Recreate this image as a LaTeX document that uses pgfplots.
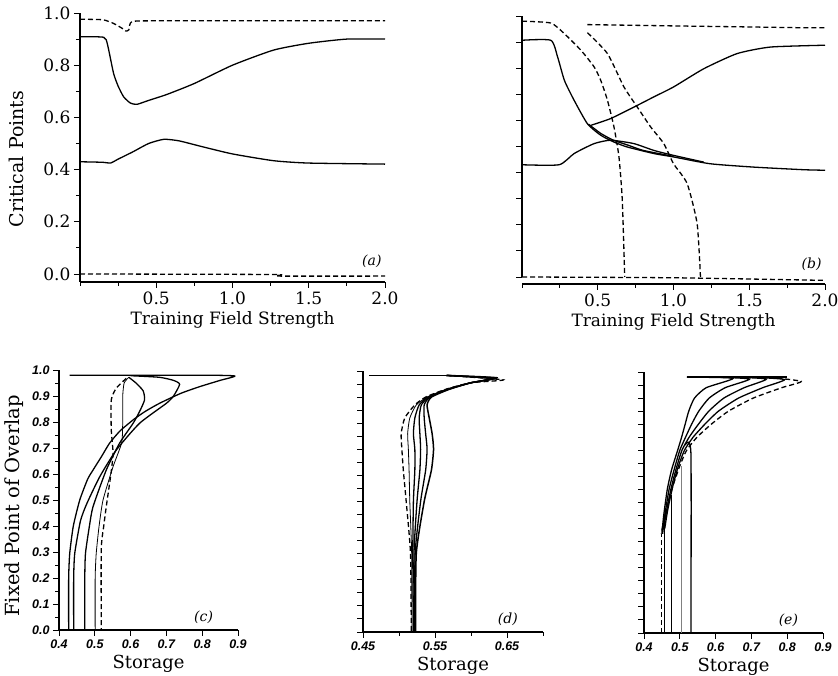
\documentclass[border=0pt]{standalone}
\usepackage{fontspec}
\setmainfont{DejaVu Serif}
\setsansfont{Liberation Sans}
\usepackage{pgfplots}
\pgfplotsset{compat=1.18}

\tikzset{
  dsh/.style={dash pattern=on 5pt off 3pt},
  tag/.style={font=\itshape\fontsize{14}{16}\selectfont, anchor=south east},
}
\pgfplotsset{
  panel/.style={
    scale only axis, clip=false,
    axis lines*=left,
    axis line style={line width=1.2pt, -},
    tick align=outside,
    tick style={line width=0.9pt, black},
    major tick length=6pt, minor tick length=4pt,
    cycle list={{black, solid, mark=none}},
    every axis plot/.append style={line width=1.3pt, black, mark=none, smooth, tension=0.35},
    /pgf/number format/assume math mode=true,
    xticklabel style={/pgf/number format/.cd, fixed, fixed zerofill, precision=1},
    yticklabel style={/pgf/number format/.cd, fixed, fixed zerofill, precision=1},
  },
  top/.style={
    panel, width=305pt, height=261pt,
    xmin=0, xmax=2, ymin=0, ymax=1,
    xtick={0.5,1,1.5,2}, minor xtick={0,0.25,0.75,1.25,1.75},
    axis x line shift=8pt,
    tick label style={font=\fontsize{17}{20}\selectfont},
    xlabel style={font=\fontsize{17}{20}\selectfont},
    ylabel style={font=\fontsize{19}{22}\selectfont},
    xlabel={Training Field Strength},
  },
  bottom/.style={
    panel, width=179pt, height=261pt,
    ymin=0, ymax=1,
    ytick={0,0.1,...,1.0}, minor ytick={0.05,0.15,...,0.95},
    tick label style={font=\sffamily\bfseries\itshape\fontsize{12.5}{14}\selectfont},
    xlabel style={font=\fontsize{18}{21}\selectfont},
    ylabel style={font=\fontsize{19.5}{22}\selectfont},
    xlabel={Storage},
  },
}

\begin{document}
\begin{tikzpicture}
\path[use as bounding box] (0pt,0pt) rectangle (838pt,676pt);

% (a)
\begin{axis}[top, at={(80pt,402pt)}, anchor=south west,
  ytick={0,0.2,...,1.0}, minor ytick={0.1,0.3,...,0.9},
  ylabel={Critical Points},
  ylabel style={at={(axis description cs:-0.207,0.44)}, anchor=center}]
\addplot[dsh] coordinates {(0,0.976) (0.15,0.974) (0.22,0.96) (0.28,0.94) (0.30,0.931) (0.32,0.935) (0.34,0.967) (0.5,0.97) (1.0,0.97) (2.0,0.97)};
\addplot coordinates {(0,0.909) (0.155,0.907) (0.18,0.88) (0.22,0.769) (0.25,0.72) (0.286,0.679) (0.33,0.655) (0.373,0.65) (0.45,0.665) (0.57,0.688) (0.75,0.73) (1.0,0.80) (1.27,0.858) (1.5,0.884) (1.75,0.90) (2.0,0.90)};
\addplot coordinates {(0,0.43) (0.15,0.428) (0.2,0.425) (0.25,0.44) (0.35,0.469) (0.45,0.50) (0.55,0.516) (0.65,0.51) (0.8,0.488) (1.0,0.46) (1.27,0.434) (1.5,0.425) (2.0,0.421)};
\addplot[dsh] coordinates {(0,0) (1.27,-0.002) (1.3,-0.008) (2.0,-0.008)};
\addplot[line width=1.7pt] coordinates {(0,0.909) (0,-0.03)};
\node[tag] at (axis cs:2.0,0.01) {(a)};
\end{axis}

% (b)
\begin{axis}[top, at={(522pt,399pt)}, anchor=south west, width=303pt,
  axis x line shift=7pt,
  ytick={0,0.1,...,1.0}, yticklabels={}]
\addplot[dsh] coordinates {(0,0.98) (0.19,0.973) (0.28,0.932) (0.39,0.868) (0.476,0.805) (0.52,0.753) (0.564,0.677) (0.607,0.575) (0.64,0.46) (0.662,0.294) (0.678,0)};
\addplot[dsh] coordinates {(0.432,0.967) (1.0,0.962) (1.5,0.958) (1.85,0.955) (2.0,0.955)};
\addplot[dsh] coordinates {(0.432,0.936) (0.564,0.856) (0.673,0.728) (0.761,0.651) (0.849,0.575) (0.936,0.511) (1.0,0.434) (1.09,0.358) (1.156,0.204) (1.178,0)};
\addplot coordinates {(0,0.907) (0.19,0.907) (0.235,0.843) (0.28,0.753) (0.344,0.677) (0.432,0.587) (0.52,0.543) (0.607,0.517) (0.695,0.498) (0.87,0.473) (1.0,0.46) (1.24,0.434) (1.53,0.421) (1.86,0.411) (2.0,0.409)};
\addplot coordinates {(0.44,0.585) (0.52,0.55) (0.6,0.525) (0.7,0.505) (0.8,0.485) (1.0,0.462)};
\addplot coordinates {(0.454,0.581) (0.585,0.607) (0.739,0.651) (0.87,0.69) (1.0,0.728) (1.2,0.798) (1.42,0.856) (1.64,0.881) (2.0,0.888)};
\addplot coordinates {(0,0.43) (0.245,0.43) (0.344,0.473) (0.476,0.511) (0.585,0.524) (0.739,0.511) (0.87,0.485) (1.0,0.466) (1.2,0.44)};
\addplot[dsh] coordinates {(0,0) (1.0,-0.003) (2.0,-0.013)};
\addplot[line width=1.7pt] coordinates {(0,0.907) (0,0.306)};
\node[tag] at (axis cs:2.0,0.01) {(b)};
\end{axis}

% (c)
\begin{axis}[bottom, at={(59pt,46pt)}, anchor=south west, height=260pt,
  xmin=0.4, xmax=0.9, xtick={0.4,0.5,...,0.9},
  ylabel={Fixed Point of Overlap},
  ylabel style={at={(axis description cs:-0.251,0.477)}, anchor=center}]
\addplot coordinates {(0.43,0.98) (0.80,0.98) (0.891,0.977) (0.85,0.96) (0.793,0.936) (0.74,0.91) (0.681,0.872) (0.64,0.84) (0.607,0.808) (0.57,0.765) (0.541,0.718) (0.52,0.67) (0.495,0.615) (0.48,0.58) (0.458,0.5) (0.44,0.4) (0.43,0.295) (0.427,0.2) (0.427,0)};
\addplot coordinates {(0.60,0.978) (0.68,0.972) (0.72,0.96) (0.737,0.945) (0.72,0.9) (0.70,0.872) (0.625,0.795) (0.56,0.692) (0.514,0.59) (0.478,0.487) (0.46,0.42) (0.444,0.295) (0.441,0.2) (0.441,0)};
\addplot coordinates {(0.595,0.972) (0.615,0.95) (0.635,0.92) (0.639,0.885) (0.625,0.84) (0.607,0.795) (0.569,0.718) (0.532,0.615) (0.495,0.474) (0.485,0.4) (0.474,0.295) (0.472,0.2) (0.472,0)};
\addplot[line width=0.8pt] coordinates {(0.595,0.972) (0.582,0.95) (0.578,0.9) (0.578,0.8) (0.575,0.72) (0.551,0.628) (0.523,0.5) (0.512,0.4) (0.504,0.295) (0.501,0.2) (0.501,0)};
\addplot[dsh] coordinates {(0.588,0.968) (0.56,0.93) (0.546,0.885) (0.546,0.77) (0.551,0.68) (0.545,0.6) (0.532,0.474) (0.525,0.4) (0.518,0.31) (0.518,0)};
\node[tag] at (axis cs:0.84,0.01) {(c)};
\end{axis}

% (d)
\begin{axis}[bottom, at={(363pt,44pt)}, anchor=south west, width=180pt,
  xmin=0.45, xmax=0.70, xtick={0.45,0.55,0.65}, minor xtick={0.5,0.6,0.7},
  xticklabel style={/pgf/number format/.cd, fixed, fixed zerofill, precision=2},
  ytick={0,0.05,...,1.0}, minor ytick={}, yticklabels={}]
\addplot[line width=1.5pt] coordinates {(0.459,0.983) (0.566,0.983)};
\addplot[dsh] coordinates {(0.566,0.983) (0.645,0.966) (0.60,0.955) (0.565,0.93) (0.537,0.90) (0.522,0.87) (0.508,0.82) (0.503,0.76) (0.504,0.70) (0.506,0.62) (0.510,0.50) (0.516,0.30) (0.517,0)};
\addplot[line width=0.8pt] coordinates {(0.566,0.983) (0.625,0.972) (0.60,0.955) (0.566,0.93) (0.539,0.90) (0.524,0.87) (0.515,0.82) (0.512,0.76) (0.513,0.70) (0.514,0.62) (0.515,0.50) (0.5176,0.30) (0.518,0)};
\addplot coordinates {(0.566,0.983) (0.628,0.971) (0.60,0.955) (0.567,0.93) (0.540,0.90) (0.528,0.87) (0.522,0.82) (0.520,0.76) (0.522,0.70) (0.522,0.62) (0.520,0.50) (0.5192,0.30) (0.520,0)};
\addplot coordinates {(0.566,0.983) (0.632,0.972) (0.60,0.955) (0.568,0.93) (0.542,0.90) (0.531,0.87) (0.528,0.82) (0.529,0.76) (0.530,0.70) (0.529,0.62) (0.525,0.50) (0.5208,0.30) (0.521,0)};
\addplot coordinates {(0.566,0.983) (0.634,0.973) (0.60,0.955) (0.569,0.93) (0.543,0.90) (0.535,0.87) (0.535,0.82) (0.537,0.76) (0.539,0.70) (0.537,0.62) (0.530,0.50) (0.5224,0.30) (0.522,0)};
\addplot[line width=1.5pt] coordinates {(0.566,0.983) (0.636,0.974) (0.60,0.955) (0.57,0.93) (0.545,0.90) (0.539,0.87) (0.542,0.82) (0.546,0.76) (0.548,0.70) (0.545,0.62) (0.535,0.50) (0.524,0.30) (0.523,0)};
\node[tag] at (axis cs:0.67,0.01) {(d)};
\end{axis}

% (e)
\begin{axis}[bottom, at={(644pt,43pt)}, anchor=south west,
  xmin=0.4, xmax=0.9, xtick={0.4,0.5,...,0.9},
  ytick={0,0.05,...,1.0}, minor ytick={}, yticklabels={}]
\addplot[line width=1.5pt] coordinates {(0.519,0.98) (0.80,0.98)};
\addplot coordinates {(0.52,0.98) (0.649,0.976) (0.574,0.94) (0.541,0.90) (0.525,0.85) (0.515,0.80) (0.505,0.75) (0.494,0.70) (0.477,0.625) (0.465,0.55) (0.455,0.45) (0.45,0.38)};
\addplot coordinates {(0.60,0.98) (0.695,0.973) (0.627,0.94) (0.582,0.90) (0.553,0.85) (0.533,0.80) (0.516,0.75) (0.500,0.70) (0.485,0.63) (0.47,0.55) (0.458,0.45) (0.452,0.38)};
\addplot coordinates {(0.65,0.98) (0.742,0.973) (0.68,0.94) (0.623,0.90) (0.581,0.85) (0.552,0.80) (0.526,0.75) (0.506,0.70) (0.49,0.63) (0.475,0.55) (0.462,0.46) (0.455,0.40)};
\addplot coordinates {(0.70,0.98) (0.793,0.971) (0.732,0.94) (0.664,0.90) (0.608,0.85) (0.570,0.80) (0.537,0.75) (0.513,0.70) (0.495,0.635) (0.48,0.56) (0.466,0.47) (0.458,0.40)};
\addplot[dsh] coordinates {(0.75,0.98) (0.839,0.964) (0.785,0.94) (0.705,0.90) (0.636,0.85) (0.588,0.80) (0.548,0.75) (0.519,0.70) (0.50,0.64) (0.48,0.56) (0.46,0.46) (0.448,0.38)};
\addplot[dsh] coordinates {(0.448,0) (0.448,0.38)};
\addplot coordinates {(0.458,0) (0.458,0.42)};
\addplot coordinates {(0.476,0) (0.476,0.53)};
\addplot[gray, line width=0.9pt] coordinates {(0.504,0) (0.504,0.64)};
\addplot coordinates {(0.531,0) (0.531,0.69) (0.515,0.72)};
\node[tag] at (axis cs:0.84,0.01) {(e)};
\end{axis}
\end{tikzpicture}
\end{document}
